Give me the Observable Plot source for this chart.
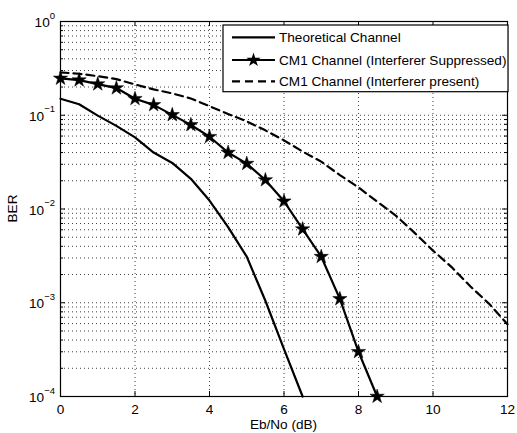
<!DOCTYPE html>
<html><head><meta charset="utf-8">
<script src="https://cdn.jsdelivr.net/npm/d3@7"></script>
<script src="https://cdn.jsdelivr.net/npm/@observablehq/plot@0.6"></script>
<style>
body{margin:0;background:#fff}
svg{font-family:"Liberation Sans",Arial,Helvetica,sans-serif}
</style>
</head><body><div id="chart"></div>
<script>
// ---- data ----
const theoX = [0,0.5,1,1.5,2,2.5,3,3.5,4,4.5,5,5.5,6,6.5];
const theoBER = [0.150,0.131,0.099,0.077,0.058,0.040,0.031,0.021,0.0123,0.0064,0.0031,0.00105,0.00032,0.0001];
const suppX = [0,0.5,1,1.5,2,2.5,3,3.5,4,4.5,5,5.5,6,6.5,7,7.5,8,8.5];
const suppBER = [0.247,0.237,0.215,0.195,0.150,0.129,0.101,0.079,0.059,0.040,0.0305,0.0204,0.0121,0.0061,0.0031,0.0011,0.00030,0.0001];
const presX = [0,0.5,1,1.5,2,2.5,3,3.5,4,4.5,5,5.5,6,6.5,7,7.5,8,8.5,9,9.5,10,10.5,11,11.5,12];
const presBER = [0.286,0.277,0.261,0.243,0.213,0.189,0.171,0.151,0.125,0.103,0.086,0.069,0.054,0.041,0.032,0.023,0.017,0.012,0.0085,0.0056,0.0036,0.0024,0.0015,0.00098,0.00059];
const seriesNames = ["Theoretical Channel","CM1 Channel (Interferer Suppressed)","CM1 Channel (Interferer present)"];
const xTicks = [0,2,4,6,8,10,12];
const yExp = [-4,-3,-2,-1,0];
const xLabel = "Eb/No (dB)";
const yLabel = "BER";

const yTicks = yExp.map(e => Math.pow(10,e));
const yMinor = [];
for (const e of yExp.slice(0,-1)) for (let m=2;m<=9;m++) yMinor.push(m*Math.pow(10,e));
const yGrid = yTicks.concat(yMinor);

const theo = theoX.map((x,i)=>({x, y: theoBER[i]}));
const supp = suppX.map((x,i)=>({x, y: suppBER[i]}));
const pres = presX.map((x,i)=>({x, y: presBER[i]}));

const W = 517, H = 433, mL = 60, mR = 10, mT = 21, mB = 37;
const pw = W - mL - mR, ph = H - mT - mB;
const FS = 13.6;
const STAR_R = 4.5;

const chart = Plot.plot({
  width: W, height: H,
  marginLeft: mL, marginRight: mR, marginTop: mT, marginBottom: mB,
  style: {fontFamily: '"Liberation Sans",Arial,sans-serif', fontSize: FS+"px", background: "#fff", color: "#000"},
  x: {domain: [0,12], ticks: xTicks},
  y: {type: "log", domain: [1e-4, 1]},
  marks: [
    Plot.gridX(xTicks.slice(1,-1), {stroke: "#000", strokeOpacity: 0.75, strokeDasharray: "1,3"}),
    Plot.gridY(yGrid.filter(v=>v>1e-4 && v<1), {stroke: "#000", strokeOpacity: 0.75, strokeDasharray: "1,3"}),
    Plot.tickX(xTicks, {x: d=>d, insetTop: ph-5, stroke:"#000"}),
    Plot.tickX(xTicks, {x: d=>d, insetBottom: ph-5, stroke:"#000"}),
    Plot.tickY(yTicks, {y: d=>d, insetRight: pw-5, stroke:"#000"}),
    Plot.tickY(yTicks, {y: d=>d, insetLeft: pw-5, stroke:"#000"}),
    Plot.tickY(yMinor, {y: d=>d, insetRight: pw-3, stroke:"#000"}),
    Plot.tickY(yMinor, {y: d=>d, insetLeft: pw-3, stroke:"#000"}),
    Plot.axisX(xTicks, {tickSize: 0, tickPadding: 8, fontSize: FS, label: null}),
    Plot.axisY({ticks: [], tickSize: 0, label: null}),
    Plot.line(pres, {x:"x", y:"y", stroke:"#000", strokeWidth: 2.2, strokeDasharray: "8,5"}),
    Plot.line(theo, {x:"x", y:"y", stroke:"#000", strokeWidth: 2.2}),
    Plot.line(supp, {x:"x", y:"y", stroke:"#000", strokeWidth: 2.2}),
    Plot.dot(supp, {x:"x", y:"y", symbol:"star", r: STAR_R, fill:"#000", stroke:"#000", strokeWidth: 0.5}),
    Plot.frame({stroke:"#000", strokeWidth: 1.2})
  ]
});
document.getElementById("chart").appendChild(chart);

const svg = d3.select(chart);
const ys = chart.scale("y");

// y tick labels 10^e
const gy = svg.append("g").attr("font-size", FS+"px").attr("text-anchor","end");
yExp.forEach(e => {
  const t = gy.append("text")
    .attr("x", mL - 5).attr("y", ys.apply(Math.pow(10,e)) + 6)
    .attr("text-anchor", "end");
  t.append("tspan").text("10");
  t.append("tspan").attr("dy", -8.5).attr("font-size", "9.5px").text(e === 0 ? "0" : "\u2212" + (-e));
});

// axis labels
svg.append("text").attr("x", (mL + W - mR)/2).attr("y", H - 4)
  .attr("text-anchor","middle").attr("font-size", FS+"px").text(xLabel);
svg.append("text").attr("transform", `translate(17,${(mT + H - mB)/2}) rotate(-90)`)
  .attr("text-anchor","middle").attr("font-size", FS+"px").text(yLabel);

// legend
const lg = svg.append("g").attr("text-anchor","start");
const lx = 223, ly = 25, lw = 285, lh = 66.7;
lg.append("rect").attr("x", lx).attr("y", ly).attr("width", lw).attr("height", lh)
  .attr("fill","#fff").attr("stroke","#000").attr("stroke-width",1.2);
const rows = [37.4, 60, 81.4];
seriesNames.forEach((name,i) => {
  const yy = rows[i];
  lg.append("line").attr("x1", 232).attr("x2", 275).attr("y1", yy).attr("y2", yy)
    .attr("stroke","#000").attr("stroke-width",2.2)
    .attr("stroke-dasharray", i===2 ? "8,5" : null);
  if (i===1) lg.append("path").attr("d", d3.symbol(d3.symbolStar, Math.PI*STAR_R*STAR_R)())
    .attr("transform", `translate(253.5,${yy})`).attr("fill","#000");
  lg.append("text").attr("x", 279).attr("y", yy + 4.9).attr("text-anchor","start")
    .attr("font-size", FS+"px").attr("fill","#000").text(name);
});
</script>
</body></html>
